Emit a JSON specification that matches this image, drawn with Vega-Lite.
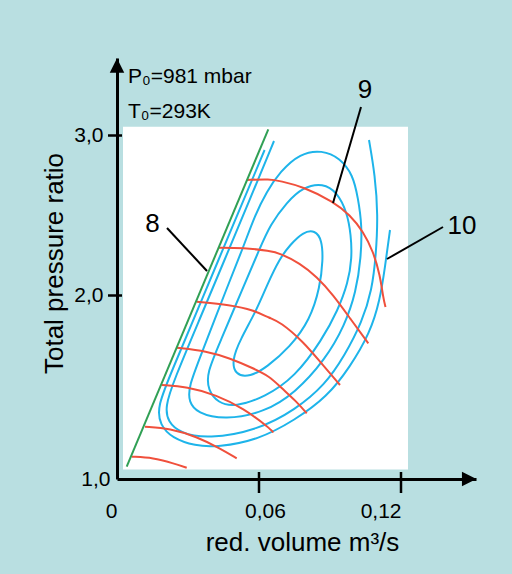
{
  "$schema": "https://vega.github.io/schema/vega-lite/v6.json",
  "width": 359,
  "height": 421,
  "autosize": {"type": "none"},
  "padding": {"left": 117, "top": 58, "right": 36, "bottom": 95},
  "background": "#b9dfe1",
  "config": {"view": {"stroke": null}, "font": "Liberation Sans"},
  "datasets": {
    "panel": [{"x": 0.002535, "x2": 0.12296, "y": 1.0518, "y2": 3.055}],
    "closedEff": [
      {"c": "C1", "i": 0, "x": 0.083663, "y": 2.4094}, {"c": "C1", "i": 1, "x": 0.086621, "y": 2.3469}, {"c": "C1", "i": 2, "x": 0.087043, "y": 2.2219}, {"c": "C1", "i": 3, "x": 0.085776, "y": 2.0531}, {"c": "C1", "i": 4, "x": 0.08155, "y": 1.8665}, {"c": "C1", "i": 5, "x": 0.073099, "y": 1.7193}, {"c": "C1", "i": 6, "x": 0.063381, "y": 1.6104}, {"c": "C1", "i": 7, "x": 0.056198, "y": 1.5559}, {"c": "C1", "i": 8, "x": 0.04986, "y": 1.5668}, {"c": "C1", "i": 9, "x": 0.048592, "y": 1.6485}, {"c": "C1", "i": 10, "x": 0.051972, "y": 1.7575}, {"c": "C1", "i": 11, "x": 0.059029, "y": 1.921}, {"c": "C1", "i": 12, "x": 0.063381, "y": 2.0656}, {"c": "C1", "i": 13, "x": 0.068874, "y": 2.2344}, {"c": "C1", "i": 14, "x": 0.073099, "y": 2.3156}, {"c": "C1", "i": 15, "x": 0.078592, "y": 2.3969},
      {"c": "C2", "i": 0, "x": 0.087043, "y": 2.7031}, {"c": "C2", "i": 1, "x": 0.092959, "y": 2.6469}, {"c": "C2", "i": 2, "x": 0.097184, "y": 2.5219}, {"c": "C2", "i": 3, "x": 0.098874, "y": 2.3781}, {"c": "C2", "i": 4, "x": 0.099297, "y": 2.2344}, {"c": "C2", "i": 5, "x": 0.097607, "y": 2.0781}, {"c": "C2", "i": 6, "x": 0.093381, "y": 1.921}, {"c": "C2", "i": 7, "x": 0.086621, "y": 1.7575}, {"c": "C2", "i": 8, "x": 0.075212, "y": 1.5559}, {"c": "C2", "i": 9, "x": 0.06254, "y": 1.4469}, {"c": "C2", "i": 10, "x": 0.04986, "y": 1.3924}, {"c": "C2", "i": 11, "x": 0.042677, "y": 1.4142}, {"c": "C2", "i": 12, "x": 0.038451, "y": 1.485}, {"c": "C2", "i": 13, "x": 0.037902, "y": 1.5777}, {"c": "C2", "i": 14, "x": 0.043944, "y": 1.7575}, {"c": "C2", "i": 15, "x": 0.052818, "y": 2.0344}, {"c": "C2", "i": 16, "x": 0.060423, "y": 2.2969}, {"c": "C2", "i": 17, "x": 0.064649, "y": 2.4406}, {"c": "C2", "i": 18, "x": 0.071832, "y": 2.5844}, {"c": "C2", "i": 19, "x": 0.078592, "y": 2.6781},
      {"c": "C3", "i": 0, "x": 0.086621, "y": 2.9094}, {"c": "C3", "i": 1, "x": 0.094226, "y": 2.8594}, {"c": "C3", "i": 2, "x": 0.099719, "y": 2.7531}, {"c": "C3", "i": 3, "x": 0.101832, "y": 2.6094}, {"c": "C3", "i": 4, "x": 0.103522, "y": 2.4406}, {"c": "C3", "i": 5, "x": 0.1031, "y": 2.2344}, {"c": "C3", "i": 6, "x": 0.100987, "y": 2.0219}, {"c": "C3", "i": 7, "x": 0.096339, "y": 1.8392}, {"c": "C3", "i": 8, "x": 0.087888, "y": 1.6485}, {"c": "C3", "i": 9, "x": 0.075212, "y": 1.4687}, {"c": "C3", "i": 10, "x": 0.06254, "y": 1.3651}, {"c": "C3", "i": 11, "x": 0.045634, "y": 1.3215}, {"c": "C3", "i": 12, "x": 0.033803, "y": 1.3597}, {"c": "C3", "i": 13, "x": 0.030423, "y": 1.4196}, {"c": "C3", "i": 14, "x": 0.030127, "y": 1.5014}, {"c": "C3", "i": 15, "x": 0.036338, "y": 1.703}, {"c": "C3", "i": 16, "x": 0.046057, "y": 2.0344}, {"c": "C3", "i": 17, "x": 0.05324, "y": 2.2969}, {"c": "C3", "i": 18, "x": 0.058311, "y": 2.5031}, {"c": "C3", "i": 19, "x": 0.063254, "y": 2.6488}, {"c": "C3", "i": 20, "x": 0.068874, "y": 2.7738}, {"c": "C3", "i": 21, "x": 0.077325, "y": 2.8888}
    ],
    "openEff": [
      {"c": "C4", "i": 0, "x": 0.066339, "y": 2.9656}, {"c": "C4", "i": 1, "x": 0.056029, "y": 2.5969}, {"c": "C4", "i": 2, "x": 0.045423, "y": 2.2219}, {"c": "C4", "i": 3, "x": 0.034775, "y": 1.8665}, {"c": "C4", "i": 4, "x": 0.024085, "y": 1.5395}, {"c": "C4", "i": 5, "x": 0.020282, "y": 1.3924}, {"c": "C4", "i": 6, "x": 0.02155, "y": 1.3106}, {"c": "C4", "i": 7, "x": 0.02662, "y": 1.2507}, {"c": "C4", "i": 8, "x": 0.038451, "y": 1.218}, {"c": "C4", "i": 9, "x": 0.059578, "y": 1.267}, {"c": "C4", "i": 10, "x": 0.075212, "y": 1.376}, {"c": "C4", "i": 11, "x": 0.087888, "y": 1.5123}, {"c": "C4", "i": 12, "x": 0.096339, "y": 1.6757}, {"c": "C4", "i": 13, "x": 0.103522, "y": 1.8556}, {"c": "C4", "i": 14, "x": 0.107748, "y": 2.0344}, {"c": "C4", "i": 15, "x": 0.109438, "y": 2.2531}, {"c": "C4", "i": 16, "x": 0.110283, "y": 2.5031}, {"c": "C4", "i": 17, "x": 0.109015, "y": 2.7531}, {"c": "C4", "i": 18, "x": 0.10648, "y": 2.9719},
      {"c": "C5", "i": 0, "x": 0.062367, "y": 2.9094}, {"c": "C5", "i": 1, "x": 0.049944, "y": 2.4719}, {"c": "C5", "i": 2, "x": 0.035789, "y": 1.9755}, {"c": "C5", "i": 3, "x": 0.023366, "y": 1.594}, {"c": "C5", "i": 4, "x": 0.016902, "y": 1.3924}, {"c": "C5", "i": 5, "x": 0.018169, "y": 1.2943}, {"c": "C5", "i": 6, "x": 0.02324, "y": 1.2234}, {"c": "C5", "i": 7, "x": 0.032958, "y": 1.1798}, {"c": "C5", "i": 8, "x": 0.042677, "y": 1.1744}, {"c": "C5", "i": 9, "x": 0.059578, "y": 1.2125}, {"c": "C5", "i": 10, "x": 0.075212, "y": 1.3215}, {"c": "C5", "i": 11, "x": 0.088733, "y": 1.4469}, {"c": "C5", "i": 12, "x": 0.098452, "y": 1.6104}, {"c": "C5", "i": 13, "x": 0.106903, "y": 1.7956}, {"c": "C5", "i": 14, "x": 0.111128, "y": 1.9755}, {"c": "C5", "i": 15, "x": 0.113241, "y": 2.1781}, {"c": "C5", "i": 16, "x": 0.115353, "y": 2.4094}
    ],
    "speed": [
      {"c": "S1", "i": 0, "x": 0.054803, "y": 2.7219}, {"c": "S1", "i": 1, "x": 0.064649, "y": 2.7281}, {"c": "S1", "i": 2, "x": 0.068874, "y": 2.7156}, {"c": "S1", "i": 3, "x": 0.078719, "y": 2.68}, {"c": "S1", "i": 4, "x": 0.091395, "y": 2.5863}, {"c": "S1", "i": 5, "x": 0.098452, "y": 2.5031}, {"c": "S1", "i": 6, "x": 0.104072, "y": 2.3988}, {"c": "S1", "i": 7, "x": 0.108297, "y": 2.2738}, {"c": "S1", "i": 8, "x": 0.111128, "y": 2.1281}, {"c": "S1", "i": 9, "x": 0.112524, "y": 1.9847}, {"c": "S1", "i": 10, "x": 0.113452, "y": 1.9373},
      {"c": "S2", "i": 0, "x": 0.042803, "y": 2.2988}, {"c": "S2", "i": 1, "x": 0.053367, "y": 2.2988}, {"c": "S2", "i": 2, "x": 0.064649, "y": 2.2781}, {"c": "S2", "i": 3, "x": 0.068874, "y": 2.2638}, {"c": "S2", "i": 4, "x": 0.077325, "y": 2.2013}, {"c": "S2", "i": 5, "x": 0.084381, "y": 2.1175}, {"c": "S2", "i": 6, "x": 0.091395, "y": 2.0031}, {"c": "S2", "i": 7, "x": 0.098452, "y": 1.8757}, {"c": "S2", "i": 8, "x": 0.106184, "y": 1.7395},
      {"c": "S3", "i": 0, "x": 0.033676, "y": 1.9662}, {"c": "S3", "i": 1, "x": 0.047747, "y": 1.9482}, {"c": "S3", "i": 2, "x": 0.057592, "y": 1.921}, {"c": "S3", "i": 3, "x": 0.064649, "y": 1.8757}, {"c": "S3", "i": 4, "x": 0.068874, "y": 1.8572}, {"c": "S3", "i": 5, "x": 0.078719, "y": 1.7482}, {"c": "S3", "i": 6, "x": 0.085776, "y": 1.6392}, {"c": "S3", "i": 7, "x": 0.094226, "y": 1.5123},
      {"c": "S4", "i": 0, "x": 0.025226, "y": 1.7155}, {"c": "S4", "i": 1, "x": 0.037902, "y": 1.6975}, {"c": "S4", "i": 2, "x": 0.047747, "y": 1.6578}, {"c": "S4", "i": 3, "x": 0.057592, "y": 1.6033}, {"c": "S4", "i": 4, "x": 0.064649, "y": 1.5575}, {"c": "S4", "i": 5, "x": 0.068874, "y": 1.503}, {"c": "S4", "i": 6, "x": 0.07593, "y": 1.4213}, {"c": "S4", "i": 7, "x": 0.080156, "y": 1.358},
      {"c": "S5", "i": 0, "x": 0.018888, "y": 1.5123}, {"c": "S5", "i": 1, "x": 0.029451, "y": 1.503}, {"c": "S5", "i": 2, "x": 0.042127, "y": 1.4578}, {"c": "S5", "i": 3, "x": 0.053367, "y": 1.3853}, {"c": "S5", "i": 4, "x": 0.064649, "y": 1.2763}, {"c": "S5", "i": 5, "x": 0.066043, "y": 1.2534},
      {"c": "S6", "i": 0, "x": 0.011831, "y": 1.285}, {"c": "S6", "i": 1, "x": 0.022395, "y": 1.2763}, {"c": "S6", "i": 2, "x": 0.033676, "y": 1.2305}, {"c": "S6", "i": 3, "x": 0.043522, "y": 1.1673}, {"c": "S6", "i": 4, "x": 0.050578, "y": 1.1128},
      {"c": "S7", "i": 0, "x": 0.006211, "y": 1.1215}, {"c": "S7", "i": 1, "x": 0.015338, "y": 1.1161}, {"c": "S7", "i": 2, "x": 0.023789, "y": 1.0856}, {"c": "S7", "i": 3, "x": 0.029451, "y": 1.0616}
    ],
    "surge": [{"i": 0, "x": 0.0041, "y": 1.067}, {"i": 1, "x": 0.06393, "y": 3.0388}],
    "xticks": [{"x": 0.06}, {"x": 0.12}],
    "yticks": [{"y": 2}, {"y": 3}],
    "arrows": [{"x": 0.14882, "y": 1, "dir": "right"}, {"x": 0, "y": 3.4375, "dir": "up"}],
    "notes": [{"x": 0.00465, "y": 3.3656, "t": "P₀=981 mbar"}, {"x": 0.00465, "y": 3.1469, "t": "T₀=293K"}],
    "nums": [{"x": 0.015, "y": 2.45, "t": "8"}, {"x": 0.10479, "y": 3.2844, "t": "9"}, {"x": 0.14578, "y": 2.4313, "t": "10"}],
    "leaders": [
      {"x": 0.021127, "y": 2.4219, "x2": 0.038029, "y2": 2.1531},
      {"x": 0.1031, "y": 3.1781, "x2": 0.091269, "y2": 2.5781},
      {"x": 0.13775, "y": 2.4281, "x2": 0.11409, "y2": 2.2281}
    ]
  },
  "layer": [
    {
      "data": {"name": "panel"},
      "mark": {"type": "rect", "color": "white"},
      "encoding": {
        "x": {
          "field": "x", "type": "quantitative",
          "scale": {"domain": [0, 0.15169], "nice": false, "zero": false},
          "axis": {
            "title": "red. volume m³/s",
            "values": [0, 0.06, 0.12],
            "labelExpr": "datum.value == 0 ? '0' : (datum.value < 0.09 ? '0,06' : '0,12')",
            "grid": false, "ticks": false, "tickSize": 0,
            "domainColor": "black", "domainWidth": 3,
            "labelFont": "Liberation Sans", "labelFontSize": 21, "labelColor": "black",
            "labelBaseline": "alphabetic", "labelPadding": 38,
            "labelFlush": false, "labelOverlap": false, "labelBound": false,
            "labelAlign": {"condition": {"test": "datum.value > 0.03 && datum.value < 0.09", "value": "center"}, "value": "right"},
            "labelOffset": {"condition": {"test": "datum.value > 0.03 && datum.value < 0.09", "value": 6}, "value": 0},
            "titleFont": "Liberation Sans", "titleFontSize": 26, "titleFontWeight": "normal", "titleColor": "black",
            "titleX": 185, "titleY": 71, "titleAlign": "center", "titleBaseline": "alphabetic"
          }
        },
        "x2": {"field": "x2"},
        "y": {
          "field": "y", "type": "quantitative",
          "scale": {"domain": [1, 2, 3, 3.4844], "range": [421, 237.5, 77.5, 0], "nice": false, "zero": false},
          "axis": {
            "title": "Total pressure ratio",
            "values": [1, 2, 3],
            "labelExpr": "datum.value == 1 ? '1,0' : (datum.value == 2 ? '2,0' : '3,0')",
            "grid": false, "ticks": false, "tickSize": 0,
            "domainColor": "black", "domainWidth": 3,
            "labelFont": "Liberation Sans", "labelFontSize": 21, "labelColor": "black",
            "labelFlush": false, "labelOverlap": false, "labelBound": false,
            "labelPadding": {"condition": {"test": "datum.value == 1", "value": 7}, "value": 14},
            "titleFont": "Liberation Sans", "titleFontSize": 26, "titleFontWeight": "normal", "titleColor": "black",
            "titleAngle": 270, "titleX": -55, "titleY": 205, "titleAlign": "center", "titleBaseline": "alphabetic"
          }
        },
        "y2": {"field": "y2"}
      }
    },
    {
      "data": {"name": "closedEff"},
      "mark": {"type": "line", "interpolate": "basis-closed", "color": "#1eb4ea", "strokeWidth": 2},
      "encoding": {
        "x": {"field": "x", "type": "quantitative"},
        "y": {"field": "y", "type": "quantitative"},
        "detail": {"field": "c"},
        "order": {"field": "i", "type": "quantitative"}
      }
    },
    {
      "data": {"name": "openEff"},
      "mark": {"type": "line", "interpolate": "basis", "color": "#1eb4ea", "strokeWidth": 2},
      "encoding": {
        "x": {"field": "x", "type": "quantitative"},
        "y": {"field": "y", "type": "quantitative"},
        "detail": {"field": "c"},
        "order": {"field": "i", "type": "quantitative"}
      }
    },
    {
      "data": {"name": "speed"},
      "mark": {"type": "line", "interpolate": "basis", "color": "#f0503c", "strokeWidth": 2},
      "encoding": {
        "x": {"field": "x", "type": "quantitative"},
        "y": {"field": "y", "type": "quantitative"},
        "detail": {"field": "c"},
        "order": {"field": "i", "type": "quantitative"}
      }
    },
    {
      "data": {"name": "surge"},
      "mark": {"type": "line", "color": "#30a055", "strokeWidth": 2},
      "encoding": {
        "x": {"field": "x", "type": "quantitative"},
        "y": {"field": "y", "type": "quantitative"},
        "order": {"field": "i", "type": "quantitative"}
      }
    },
    {
      "data": {"name": "xticks"},
      "mark": {"type": "rule", "color": "black", "strokeWidth": 2.5, "yOffset": -7, "y2Offset": 14},
      "encoding": {
        "x": {"field": "x", "type": "quantitative"},
        "y": {"datum": 1, "type": "quantitative"},
        "y2": {"datum": 1}
      }
    },
    {
      "data": {"name": "yticks"},
      "mark": {"type": "rule", "color": "black", "strokeWidth": 2.5, "xOffset": -9, "x2Offset": 5},
      "encoding": {
        "y": {"field": "y", "type": "quantitative"},
        "x": {"datum": 0, "type": "quantitative"},
        "x2": {"datum": 0}
      }
    },
    {
      "data": {"name": "arrows"},
      "mark": {"type": "point", "filled": true, "color": "black", "opacity": 1, "size": 210, "strokeWidth": 0},
      "encoding": {
        "x": {"field": "x", "type": "quantitative"},
        "y": {"field": "y", "type": "quantitative"},
        "shape": {"field": "dir", "type": "nominal", "scale": {"domain": ["right", "up"], "range": ["M-1,-1L1,0L-1,1Z", "M-1,1L0,-1L1,1Z"]}, "legend": null}
      }
    },
    {
      "data": {"name": "leaders"},
      "mark": {"type": "rule", "color": "black", "strokeWidth": 2},
      "encoding": {
        "x": {"field": "x", "type": "quantitative"},
        "y": {"field": "y", "type": "quantitative"},
        "x2": {"field": "x2"},
        "y2": {"field": "y2"}
      }
    },
    {
      "data": {"name": "notes"},
      "mark": {"type": "text", "align": "left", "baseline": "middle", "font": "Liberation Sans", "fontSize": 21, "color": "black"},
      "encoding": {
        "x": {"field": "x", "type": "quantitative"},
        "y": {"field": "y", "type": "quantitative"},
        "text": {"field": "t"}
      }
    },
    {
      "data": {"name": "nums"},
      "mark": {"type": "text", "align": "center", "baseline": "middle", "font": "Liberation Sans", "fontSize": 26, "color": "black"},
      "encoding": {
        "x": {"field": "x", "type": "quantitative"},
        "y": {"field": "y", "type": "quantitative"},
        "text": {"field": "t"}
      }
    }
  ]
}
